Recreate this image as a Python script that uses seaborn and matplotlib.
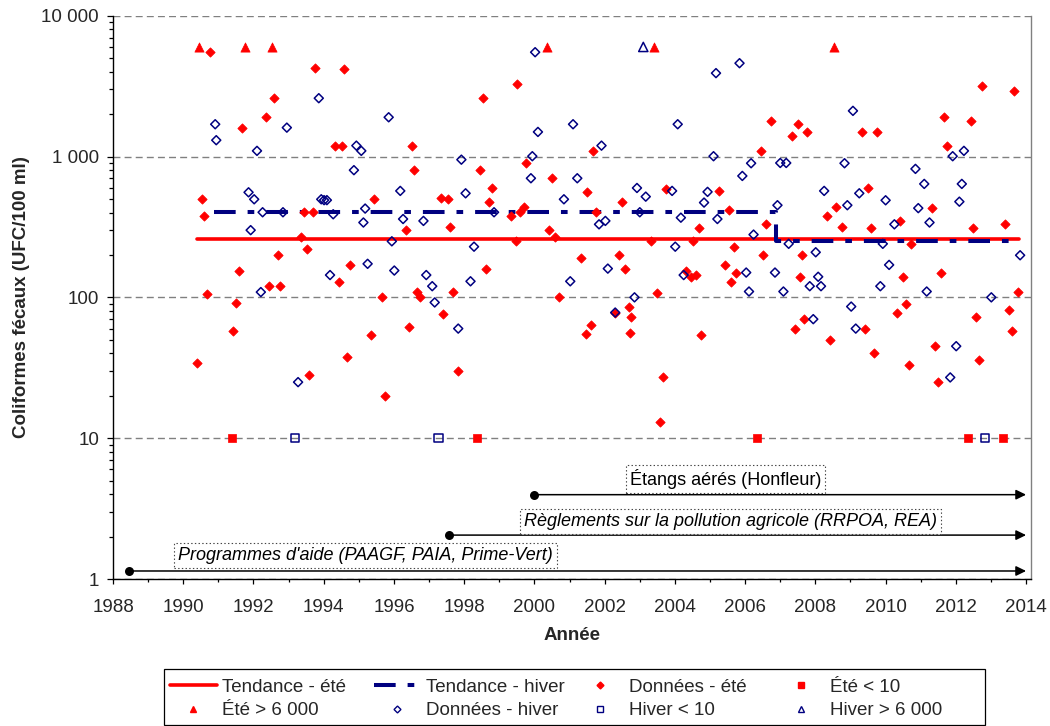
import matplotlib
matplotlib.use("Agg")
import matplotlib.pyplot as plt
import seaborn as sns
from matplotlib.lines import Line2D
from matplotlib.patches import Rectangle
from matplotlib.ticker import MultipleLocator, FuncFormatter, LogLocator, NullFormatter

# ---------------- data ----------------
summer_year = [1990.40, 1990.54, 1990.60, 1990.68, 1990.77, 1991.42, 1991.51, 1991.60, 1991.67,
               1992.35, 1992.44, 1992.59, 1992.70, 1992.76, 1993.34, 1993.44, 1993.51, 1993.58,
               1993.69, 1993.76, 1994.33, 1994.43, 1994.52, 1994.59, 1994.67, 1994.76, 1995.36,
               1995.43, 1995.67, 1995.75, 1996.35, 1996.42, 1996.52, 1996.58, 1996.65, 1996.74,
               1997.34, 1997.41, 1997.53, 1997.59, 1997.69, 1997.81, 1998.45, 1998.53, 1998.61,
               1998.70, 1998.78, 1999.34, 1999.47, 1999.50, 1999.58, 1999.69, 1999.75, 2000.42,
               2000.51, 2000.59, 2000.69, 2001.33, 2001.47, 2001.50, 2001.60, 2001.68, 2001.75,
               2002.30, 2002.41, 2002.49, 2002.59, 2002.68, 2002.75, 2002.73, 2003.33, 2003.50,
               2003.59, 2003.67, 2003.76, 2004.33, 2004.45, 2004.52, 2004.61, 2004.68, 2004.75,
               2005.27, 2005.44, 2005.53, 2005.60, 2005.67, 2005.75, 2006.44, 2006.52, 2006.60,
               2006.75, 2007.33, 2007.42, 2007.50, 2007.56, 2007.61, 2007.68, 2007.76, 2008.33,
               2008.43, 2008.60, 2008.76, 2009.33, 2009.42, 2009.50, 2009.57, 2009.67, 2009.76,
               2010.32, 2010.42, 2010.50, 2010.57, 2010.67, 2010.73, 2011.31, 2011.42, 2011.49,
               2011.59, 2011.67, 2011.74, 2012.42, 2012.50, 2012.58, 2012.67, 2012.75, 2013.41,
               2013.51, 2013.59, 2013.65, 2013.76]
summer_val = [34, 497, 377, 106, 5560, 58, 91, 154, 1604,
              1900, 120, 2595, 200, 120, 270, 402, 220, 28,
              402, 4280, 1195, 128, 1195, 4190, 38, 170, 54,
              497, 100, 20, 300, 62, 1195, 800, 110, 101,
              506, 76, 497, 318, 110, 30, 800, 2595, 160,
              478, 598, 377, 250, 3296, 406, 441, 896, 300,
              701, 270, 100, 190, 55, 561, 64, 1097, 402,
              78, 199, 478, 160, 86, 73, 56, 250, 107,
              13, 27, 592, 155, 140, 250, 144, 310, 54,
              570, 170, 418, 129, 229, 150, 1097, 200, 330,
              1800, 1400, 60, 1695, 140, 200, 70, 1495, 379,
              50, 438, 318, 1495, 60, 598, 310, 40, 1495,
              78, 349, 140, 90, 33, 240, 430, 45, 25,
              150, 1900, 1195, 1800, 310, 72, 36, 3190, 330,
              81, 58, 2910, 110]

winter_year = [1990.91, 1990.94, 1991.86, 1991.92, 1992.02, 1992.10, 1992.21, 1992.26, 1992.84,
               1992.95, 1993.27, 1993.86, 1993.93, 1994.01, 1994.09, 1994.18, 1994.27, 1994.86,
               1994.93, 1995.07, 1995.13, 1995.18, 1995.25, 1995.85, 1995.94, 1996.01, 1996.18,
               1996.26, 1996.84, 1996.92, 1997.09, 1997.16, 1997.83, 1997.92, 1998.04, 1998.18,
               1998.28, 1998.85, 1999.90, 1999.94, 2000.02, 2000.10, 2000.84, 2001.02, 2001.10,
               2001.22, 2001.84, 2001.91, 2002.02, 2002.09, 2002.30, 2002.85, 2002.92, 2003.00,
               2003.17, 2003.92, 2004.01, 2004.08, 2004.17, 2004.25, 2004.83, 2004.93, 2005.10,
               2005.17, 2005.21, 2005.84, 2005.92, 2006.03, 2006.11, 2006.17, 2006.24, 2006.85,
               2006.92, 2007.00, 2007.09, 2007.17, 2007.24, 2007.84, 2007.94, 2008.01, 2008.08,
               2008.16, 2008.25, 2008.83, 2008.91, 2009.02, 2009.07, 2009.15, 2009.25, 2009.85,
               2009.92, 2010.00, 2010.10, 2010.25, 2010.85, 2010.93, 2011.10, 2011.17, 2011.25,
               2011.84, 2011.91, 2012.01, 2012.10, 2012.17, 2012.23, 2013.01, 2013.83]
winter_val = [1695, 1306, 557, 300, 497, 1097, 109, 402, 402,
              1604, 25, 2595, 497, 490, 490, 144, 389, 800,
              1195, 1097, 340, 427, 173, 1900, 250, 155, 570,
              360, 349, 144, 120, 92, 60, 950, 548, 130,
              229, 402, 701, 1005, 5505, 1495, 497, 130, 1695,
              701, 330, 1195, 349, 160, 78, 100, 598, 402,
              519, 570, 229, 1695, 368, 144, 471, 561, 1005,
              3910, 360, 4600, 728, 150, 110, 896, 279, 150,
              451, 900, 110, 900, 240, 120, 70, 209, 140,
              120, 570, 896, 451, 86, 2110, 60, 548, 120,
              240, 489, 170, 330, 817, 430, 639, 110, 340,
              27, 1005, 45, 478, 639, 1097, 100, 199]

summer_high_year = [1990.45, 1991.76, 1992.52, 2000.35, 2003.41, 2008.52]   # Été > 6 000
summer_low_year = [1991.40, 1998.36, 2006.33, 2012.34, 2013.33]             # Été < 10
winter_high_year = [2003.10]                                                # Hiver > 6 000
winter_low_year = [1993.19, 1997.27, 2012.83]                               # Hiver < 10
high_cap = 6000
low_cap = 10

trend_summer_year = [1990.38, 2013.79]
trend_summer_val = [260, 260]
trend_winter_year = [1990.89, 2006.89, 2006.89, 2013.65]
trend_winter_val = [405, 405, 250, 250]

program_labels = ["Programmes d'aide (PAAGF, PAIA, Prime-Vert)",
                  "Règlements sur la pollution agricole (RRPOA, REA)",
                  "Étangs aérés (Honfleur)"]
program_start = [1988.46, 1997.58, 2000.0]
program_level = [1.14, 2.05, 3.97]
program_end = 2014.0
program_text_x = [1989.85, 1999.70, 2002.72]
program_text_y = [1.365, 2.39, 4.65]
program_italic = [True, True, False]

year_ticks = list(range(1988, 2015, 2))
value_ticks = [1, 10, 100, 1000, 10000]

# ---------------- style ----------------
sns.set_theme(style="white")
plt.rcParams["font.family"] = ["Liberation Sans", "DejaVu Sans"]
plt.rcParams["lines.scale_dashes"] = False

RED = "#FF0000"
NAVY = "#000080"
GRID = "#808080"

W, H = 1050, 726
fig = plt.figure(figsize=(W / 100, H / 100), dpi=100)
ax = fig.add_axes([113 / W, 1 - 579 / H, 918 / W, 563.3 / H])
ax.set_yscale("log")

# trends
sns.lineplot(x=trend_summer_year, y=trend_summer_val, color=RED, lw=2.6, sort=False,
             estimator=None, ax=ax, legend=False, zorder=3)
sns.lineplot(x=trend_winter_year, y=trend_winter_val, color=NAVY, lw=2.9, sort=False,
             estimator=None, ax=ax, legend=False, zorder=3,
             linestyle=(0, (15.6, 8.6, 4.8, 8.6)))

# data
sns.scatterplot(x=summer_year, y=summer_val, marker="D", s=22, color=RED, edgecolor=RED,
                linewidth=0.6, ax=ax, legend=False, zorder=4)
sns.scatterplot(x=winter_year, y=winter_val, marker="D", s=21, color=NAVY, facecolor="none",
                edgecolor=NAVY, linewidth=1.1, ax=ax, legend=False, zorder=4)
sns.scatterplot(x=summer_high_year, y=[high_cap] * len(summer_high_year), marker="^", s=44,
                color=RED, edgecolor=RED, linewidth=0.5, ax=ax, legend=False, zorder=4)
sns.scatterplot(x=summer_low_year, y=[low_cap] * len(summer_low_year), marker="s", s=36,
                color=RED, edgecolor=RED, linewidth=0.5, ax=ax, legend=False, zorder=4)
sns.scatterplot(x=winter_high_year, y=[high_cap] * len(winter_high_year), marker="^", s=44,
                color=NAVY, facecolor="none", edgecolor=NAVY, linewidth=1.1, ax=ax,
                legend=False, zorder=4)
sns.scatterplot(x=winter_low_year, y=[low_cap] * len(winter_low_year), marker="s", s=36,
                color=NAVY, facecolor="none", edgecolor=NAVY, linewidth=1.1, ax=ax,
                legend=False, zorder=4)

# programmes: dot + arrow + boxed label
sns.scatterplot(x=program_start, y=program_level, color="black", s=42, edgecolor="black",
                linewidth=0, ax=ax, legend=False, zorder=6)
for lab, x0, lvl, tx, ty, it in zip(program_labels, program_start, program_level,
                                    program_text_x, program_text_y, program_italic):
    ax.annotate("", xy=(program_end, lvl), xytext=(x0, lvl),
                arrowprops=dict(arrowstyle="-|>,head_length=0.43,head_width=0.21",
                                mutation_scale=14, lw=1.1, color="black",
                                shrinkA=0, shrinkB=0), zorder=5)
    ax.text(tx, ty, lab, ha="left", va="baseline", fontsize=13,
            style="italic" if it else "normal", color="black", zorder=5,
            bbox=dict(boxstyle="square,pad=0.22", fc="white", ec="#444444", lw=0.8, ls=":"))

# axes
ax.set_xlim(1988, 2014.14)
ax.set_ylim(1, 10000)
ax.xaxis.set_major_locator(MultipleLocator(2))
ax.xaxis.set_minor_locator(MultipleLocator(1))
ax.set_xticks(year_ticks)
ax.set_xticklabels([str(y) for y in year_ticks])
ax.yaxis.set_major_locator(LogLocator(base=10, numticks=10))
ax.yaxis.set_minor_locator(LogLocator(base=10, subs=range(2, 10), numticks=20))
ax.yaxis.set_minor_formatter(NullFormatter())
ax.set_yticks(value_ticks)
ax.yaxis.set_major_formatter(FuncFormatter(lambda v, p: f"{v:,.0f}".replace(",", " ")))

ax.grid(False)
ax.grid(True, axis="y", which="major", color=GRID, lw=1.0, linestyle=(0, (5, 3)))
ax.set_axisbelow(True)

for side in ["left", "bottom"]:
    ax.spines[side].set_color("black")
    ax.spines[side].set_linewidth(1.0)
ax.spines["top"].set_visible(False)
ax.spines["right"].set_color(GRID)
ax.spines["right"].set_linewidth(1.0)

ax.tick_params(axis="both", which="both", bottom=True, left=True, direction="out",
               color="black", width=0.9)
ax.tick_params(axis="y", which="major", length=4.5, pad=5.5, labelsize=13.5)
ax.tick_params(axis="y", which="minor", length=3.2)
ax.tick_params(axis="x", which="major", length=3.8, pad=10.5, labelsize=13.5)
ax.tick_params(axis="x", which="minor", length=2.4)

ax.set_ylabel("Coliformes fécaux (UFC/100 ml)", fontsize=13.5, fontweight="bold")
ax.yaxis.label.set_va("center")
ax.yaxis.set_label_coords((22 - 113) / 918, 0.5)
ax.set_xlabel("Année", fontsize=13.5, fontweight="bold")
ax.xaxis.label.set_va("center")
ax.xaxis.set_label_coords(0.5, (579 - 636) / 563.3)

# legend: four columns with equal widths inside one frame
h_ts = Line2D([], [], color=RED, lw=2.6)
h_th = Line2D([], [], color=NAVY, lw=2.9, linestyle=(0, (15.6, 8.6, 4.8, 8.6)))
h_ds = Line2D([], [], ls="none", marker="D", ms=3.5, color=RED, mec=RED)
h_el = Line2D([], [], ls="none", marker="s", ms=4.8, color=RED, mec=RED)
h_eh = Line2D([], [], ls="none", marker="^", ms=5.0, color=RED, mec=RED)
h_dh = Line2D([], [], ls="none", marker="D", ms=3.5, mfc="none", mec=NAVY, mew=1.0)
h_hl = Line2D([], [], ls="none", marker="s", ms=4.8, mfc="none", mec=NAVY, mew=1.0)
h_hh = Line2D([], [], ls="none", marker="^", ms=5.0, mfc="none", mec=NAVY, mew=1.0)

columns = [([h_ts, h_eh], ["Tendance - été", "Été > 6 000"], 170),
           ([h_th, h_dh], ["Tendance - hiver", "Données - hiver"], 374),
           ([h_ds, h_hl], ["Données - été", "Hiver < 10"], 576.5),
           ([h_el, h_hh], ["Été < 10", "Hiver > 6 000"], 777.5)]
for handles, labels, xpx in columns:
    fig.legend(handles=handles, labels=labels, loc="center left",
               bbox_to_anchor=(xpx / W, 1 - 699 / H), frameon=False, borderpad=0,
               borderaxespad=0, handlelength=2.5, handletextpad=0.3, labelspacing=0.35,
               fontsize=13.5)
fig.add_artist(Rectangle((164 / W, 1 - 725 / H), (985 - 164) / W, 56 / H,
                         transform=fig.transFigure, fill=False, ec="black", lw=0.9))

fig.savefig("out.png", dpi=100)
